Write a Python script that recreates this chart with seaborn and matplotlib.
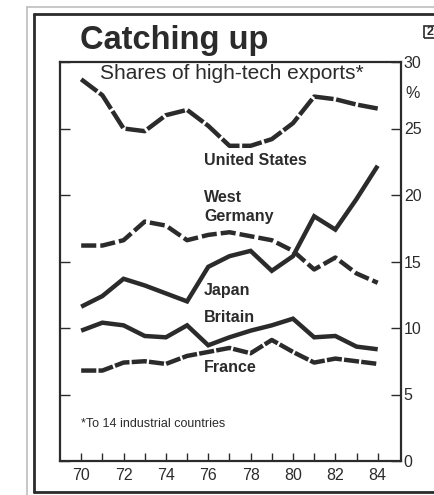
import matplotlib
matplotlib.use("Agg")
import matplotlib.pyplot as plt
import seaborn as sns
import pandas as pd
from matplotlib.patches import Rectangle
from matplotlib.lines import Line2D

# Shares of high-tech exports to 14 industrial countries, %
years = list(range(1970, 1985))
united_states = [28.7, 27.5, 25.0, 24.8, 26.0, 26.4, 25.2, 23.7, 23.7, 24.2, 25.4, 27.4, 27.2, 26.8, 26.5]
west_germany = [16.2, 16.2, 16.6, 18.0, 17.7, 16.6, 17.0, 17.2, 16.9, 16.6, 15.8, 14.4, 15.3, 14.1, 13.4]
japan = [11.6, 12.4, 13.7, 13.2, 12.6, 12.0, 14.6, 15.4, 15.8, 14.3, 15.4, 18.4, 17.4, 19.7, 22.2]
britain = [9.8, 10.4, 10.2, 9.4, 9.3, 10.2, 8.7, 9.3, 9.8, 10.2, 10.7, 9.3, 9.4, 8.6, 8.4]
france = [6.8, 6.8, 7.4, 7.5, 7.3, 7.9, 8.2, 8.5, 8.1, 9.1, 8.2, 7.4, 7.7, 7.5, 7.3]

y_ticks = [0, 5, 10, 15, 20, 25, 30]
x_ticks = list(range(1970, 1985, 2))
x_tick_labels = [str(y % 100) for y in x_ticks]

df = pd.DataFrame({
    "year": years * 5,
    "share": united_states + west_germany + japan + britain + france,
    "country": (["United States"] * 15 + ["West Germany"] * 15 + ["Japan"] * 15
                + ["Britain"] * 15 + ["France"] * 15),
})

sns.set_theme(style="white")
plt.rcParams["font.family"] = ["Liberation Sans", "DejaVu Sans"]

ink = "#2b2b2b"
fig = plt.figure(figsize=(4.35, 4.95), dpi=100)
ax = fig.add_axes([60 / 435, 34 / 495, 341 / 435, 399 / 495])

dash_styles = {
    "United States": (0, (4.5, 0.6)),
    "West Germany": (0, (3.4, 0.9)),
    "Japan": "-",
    "Britain": "-",
    "France": (0, (3.4, 0.5)),
}
palette = {c: ink for c in dash_styles}
sns.lineplot(data=df, x="year", y="share", hue="country", palette=palette,
             legend=False, ax=ax, linewidth=3.2)
for line, name in zip(ax.get_lines(), dash_styles):
    line.set_linestyle(dash_styles[name])
    line.set_solid_capstyle("butt")
    line.set_dash_capstyle("butt")
    line.set_solid_joinstyle("miter")

ax.set_xlim(1969, 1985.1)
ax.set_ylim(0, 30)
ax.set_xlabel("")
ax.set_ylabel("")

ax.set_xticks(years, minor=True)
ax.set_xticks(x_ticks)
ax.set_xticklabels(x_tick_labels, fontsize=11.5, color=ink)
ax.set_yticks(y_ticks)
ax.set_yticklabels([str(v) for v in y_ticks], fontsize=11.5, color=ink)
ax.tick_params(axis="x", which="both", direction="in", length=6, width=1,
               color=ink, pad=5, bottom=True, top=False)
ax.tick_params(axis="y", which="both", direction="in", length=7, width=1,
               color=ink, left=True, right=True, labelleft=False, labelright=True, pad=2)

for side, spine in ax.spines.items():
    spine.set_color(ink)
    spine.set_linewidth(1.6)

# right-hand unit marker
ax.text(1.012, 27.6, "%", transform=ax.get_yaxis_transform(), fontsize=11.5,
        color=ink, ha="left", va="center")

# series labels
lab = dict(fontsize=11.5, fontweight="bold", color=ink, ha="left", va="center")
ax.text(1975.8, 22.6, "United States", **lab)
ax.text(1975.8, 19.8, "West", **lab)
ax.text(1975.8, 18.4, "Germany", **lab)
ax.text(1975.8, 12.8, "Japan", **lab)
ax.text(1975.8, 10.8, "Britain", **lab)
ax.text(1975.8, 7.0, "France", **lab)

ax.text(1970.0, 2.8, "*To 14 industrial countries", fontsize=9, color=ink,
        ha="left", va="center")
ax.text(1977.1, 29.1, "Shares of high-tech exports*", fontsize=15, color=ink,
        ha="center", va="center")

fig.text(80 / 435, 1 - 40 / 495, "Catching up", fontsize=23.5, fontweight="bold",
         color=ink, ha="left", va="center")

# outer frame
fig.add_artist(Line2D([27 / 435, 27 / 435], [1 - 7 / 495, 0], color="#bdbdbd", lw=1.2))
fig.add_artist(Line2D([27 / 435, 1], [1 - 7 / 495, 1 - 7 / 495], color="#bdbdbd", lw=1.2))
fig.add_artist(Line2D([34 / 435, 34 / 435], [1 - 14 / 495, 3 / 495], color=ink, lw=2))
fig.add_artist(Line2D([34 / 435, 1], [1 - 14 / 495, 1 - 14 / 495], color=ink, lw=2))
fig.add_artist(Line2D([34 / 435, 1], [3 / 495, 3 / 495], color=ink, lw=2))

# page marker box
fig.add_artist(Rectangle((424 / 435, 1 - 38 / 495), 20 / 435, 12 / 495,
                         transform=fig.transFigure, fill=False, ec=ink, lw=1.2))
fig.text(427 / 435, 1 - 32 / 495, "2", fontsize=9, fontweight="bold", color=ink,
         ha="left", va="center")

fig.savefig("out.png", dpi=100)
